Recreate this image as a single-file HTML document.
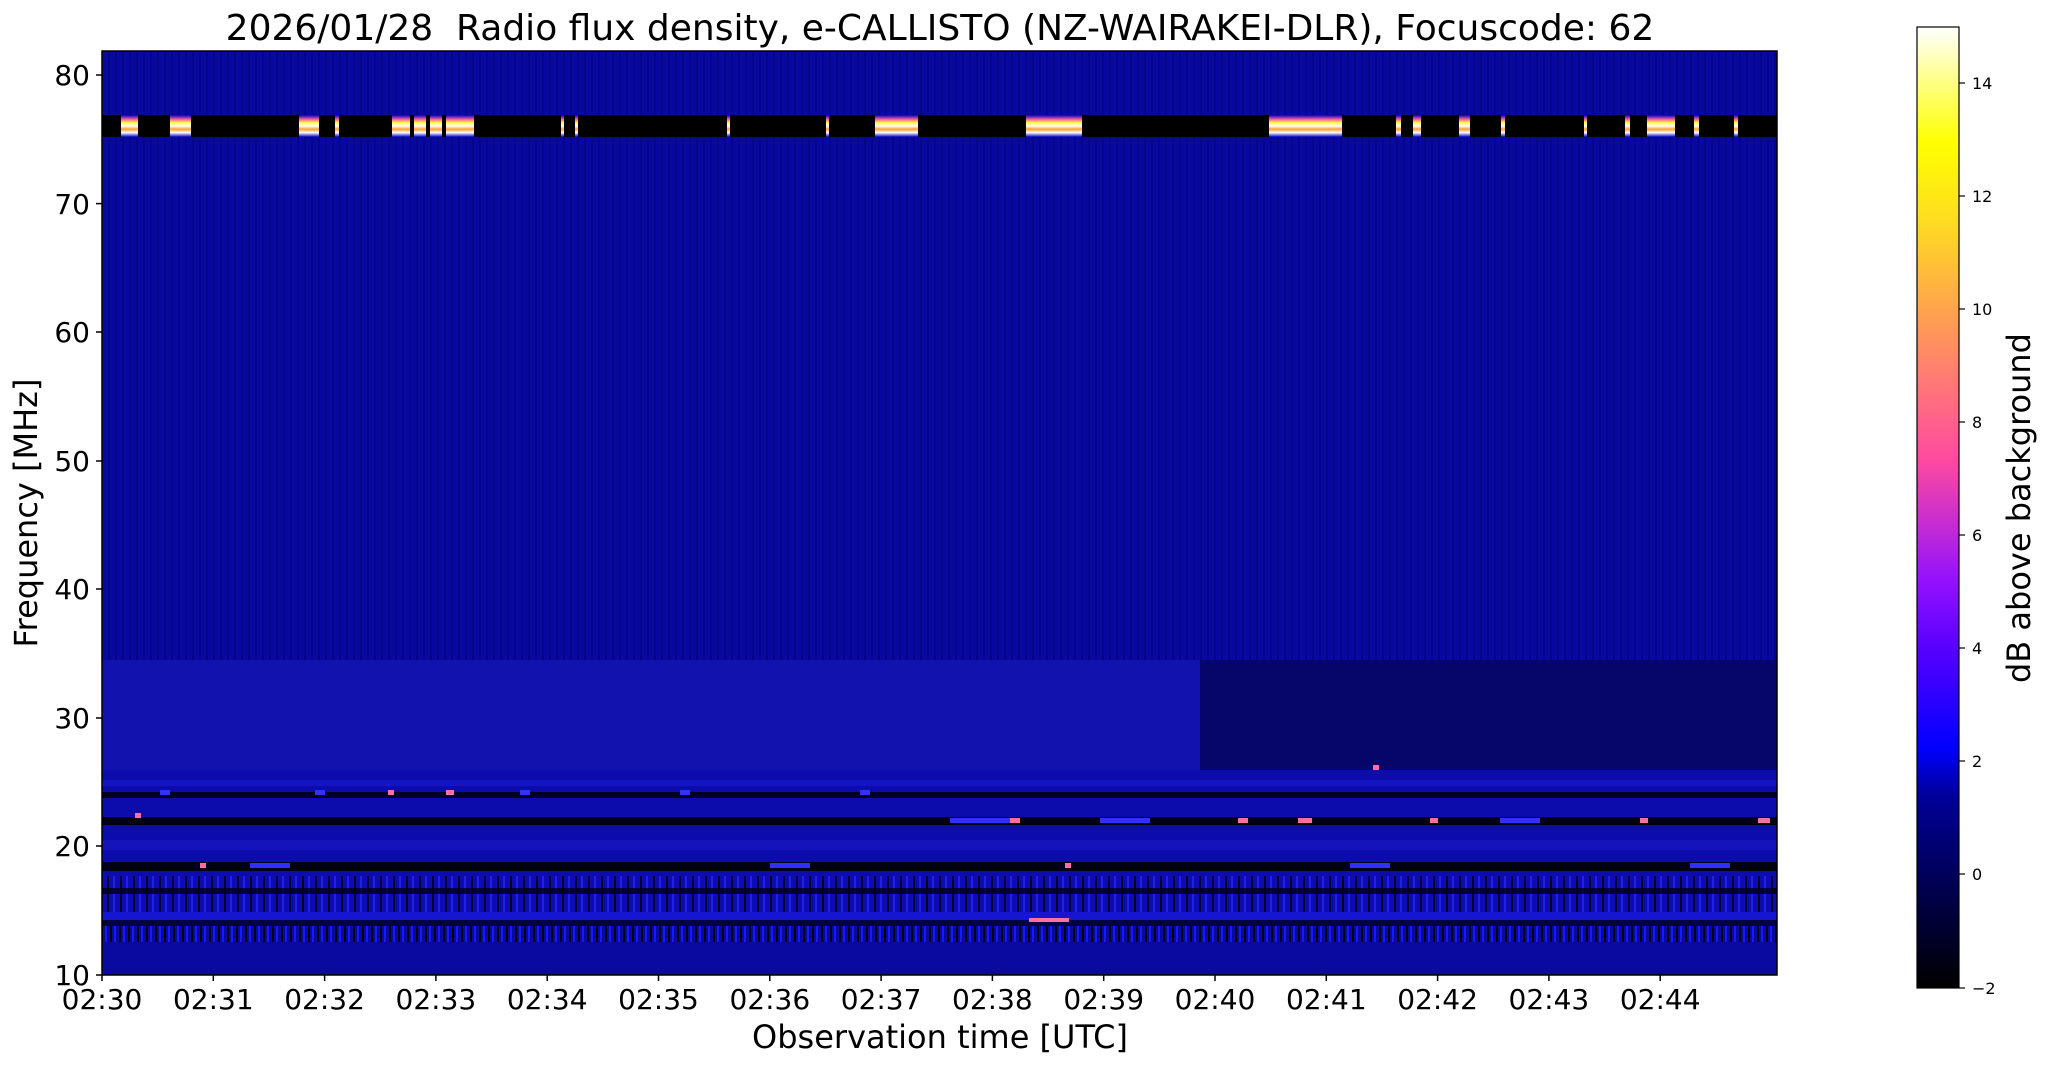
<!DOCTYPE html>
<html><head><meta charset="utf-8"><style>
body{margin:0;background:#fff;}
svg{display:block;font-family:"DejaVu Sans","Liberation Sans",sans-serif;}
</style></head><body>
<svg width="2047" height="1067" viewBox="0 0 2047 1067" xmlns="http://www.w3.org/2000/svg">
<defs>
<linearGradient id="cb" x1="0" y1="1" x2="0" y2="0">
<stop offset="0" stop-color="#000000"/>
<stop offset="0.1" stop-color="#00004d"/>
<stop offset="0.2" stop-color="#000099"/>
<stop offset="0.25" stop-color="#0000ff"/>
<stop offset="0.35" stop-color="#5500ff"/>
<stop offset="0.42" stop-color="#9010ff"/>
<stop offset="0.55" stop-color="#ff4aa0"/>
<stop offset="0.7" stop-color="#ffa050"/>
<stop offset="0.8" stop-color="#ffdd20"/>
<stop offset="0.88" stop-color="#ffff00"/>
<stop offset="1" stop-color="#ffffff"/>
</linearGradient>
<linearGradient id="burst" x1="0" y1="0" x2="0" y2="1">
<stop offset="0" stop-color="#0000c0"/>
<stop offset="0.2" stop-color="#ff60a0"/>
<stop offset="0.35" stop-color="#ffff40"/>
<stop offset="0.5" stop-color="#ffffff"/>
<stop offset="0.65" stop-color="#ffa030"/>
<stop offset="0.8" stop-color="#ffffff"/>
<stop offset="1" stop-color="#0000c0"/>
</linearGradient>
<pattern id="str" width="9" height="40" patternUnits="userSpaceOnUse">
<rect width="9" height="40" fill="#0a0a98"/>
<rect x="2" width="2" height="40" fill="#000010"/>
<rect x="6" width="2" height="40" fill="#1818ff"/>
</pattern>
<pattern id="str2" width="13" height="40" patternUnits="userSpaceOnUse">
<rect width="13" height="40" fill="#0c0cb0"/>
<rect x="3" width="2" height="40" fill="#000030"/>
<rect x="9" width="2" height="40" fill="#2020e8"/>
</pattern>
<pattern id="vt" width="7" height="40" patternUnits="userSpaceOnUse">
<rect width="7" height="40" fill="#0909a0"/>
<rect x="3" width="2" height="40" fill="#06068a"/>
</pattern>
</defs>
<text x="940" y="40" font-size="36" text-anchor="middle" fill="#000" style="white-space:pre">2026/01/28  Radio flux density, e-CALLISTO (NZ-WAIRAKEI-DLR), Focuscode: 62</text>
<!-- plot -->
<rect x="102" y="51" width="1675" height="924" fill="url(#vt)"/>
<rect x="102" y="660" width="1098" height="110" fill="#1212ae"/>
<rect x="1200" y="660" width="577" height="110" fill="#06066a"/>
<rect x="102" y="770" width="1675" height="205" fill="#0c0cac"/>
<!-- black band -->
<rect x="102" y="115" width="1675" height="22" fill="#000"/>
<g fill="url(#burst)">
<rect x="121" y="115" width="17" height="22"/>
<rect x="170" y="115" width="21" height="22"/>
<rect x="299" y="115" width="20" height="22"/>
<rect x="335" y="115" width="4" height="22"/>
<rect x="392" y="115" width="18" height="22"/>
<rect x="414" y="115" width="12" height="22"/>
<rect x="430" y="115" width="12" height="22"/>
<rect x="446" y="115" width="28" height="22"/>
<rect x="561" y="115" width="3" height="22"/>
<rect x="575" y="115" width="3" height="22"/>
<rect x="727" y="115" width="3" height="22"/>
<rect x="826" y="115" width="3" height="22"/>
<rect x="875" y="115" width="43" height="22"/>
<rect x="1026" y="115" width="56" height="22"/>
<rect x="1269" y="115" width="73" height="22"/>
<rect x="1396" y="115" width="5" height="22"/>
<rect x="1413" y="115" width="8" height="22"/>
<rect x="1459" y="115" width="11" height="22"/>
<rect x="1501" y="115" width="4" height="22"/>
<rect x="1584" y="115" width="3" height="22"/>
<rect x="1625" y="115" width="5" height="22"/>
<rect x="1647" y="115" width="28" height="22"/>
<rect x="1694" y="115" width="5" height="22"/>
<rect x="1734" y="115" width="4" height="22"/>
</g>
<!-- lower bands -->
<rect x="102" y="780" width="1675" height="6" fill="#1a1ad0" opacity="0.6"/>
<rect x="102" y="792" width="1675" height="6" fill="#000020"/>
<rect x="102" y="817" width="1675" height="8" fill="#000010"/>
<rect x="102" y="840" width="1675" height="10" fill="#1818c0" opacity="0.7"/>
<rect x="102" y="862" width="1675" height="9" fill="#000018"/>
<rect x="102" y="876" width="1675" height="36" fill="url(#str2)"/>
<rect x="102" y="888" width="1675" height="6" fill="#000010" opacity="0.8"/>
<rect x="102" y="912" width="1675" height="8" fill="#1616d0"/>
<rect x="102" y="920" width="1675" height="6" fill="#000010" opacity="0.7"/>
<rect x="102" y="926" width="1675" height="16" fill="url(#str)"/>
<rect x="102" y="942" width="1675" height="33" fill="#0a0aa0"/>
<!-- bright dots -->
<g fill="#ff70a0">
<rect x="135" y="813" width="6" height="5"/><rect x="200" y="863" width="6" height="5"/>
<rect x="275" y="863" width="6" height="5"/><rect x="388" y="790" width="6" height="5"/>
<rect x="446" y="790" width="8" height="5"/><rect x="1006" y="818" width="14" height="5"/>
<rect x="1065" y="863" width="6" height="5"/><rect x="1238" y="818" width="10" height="5"/>
<rect x="1373" y="765" width="6" height="5"/><rect x="1430" y="818" width="8" height="5"/>
<rect x="1640" y="818" width="8" height="5"/><rect x="1758" y="818" width="12" height="5"/>
<rect x="1029" y="918" width="40" height="4"/><rect x="1298" y="818" width="14" height="5"/>
</g>
<g fill="#3030ff">
<rect x="160" y="790" width="10" height="5"/><rect x="315" y="790" width="10" height="5"/>
<rect x="520" y="790" width="10" height="5"/><rect x="680" y="790" width="10" height="5"/>
<rect x="860" y="790" width="10" height="5"/><rect x="950" y="818" width="60" height="5"/>
<rect x="1100" y="818" width="50" height="5"/><rect x="1500" y="818" width="40" height="5"/>
<rect x="250" y="863" width="40" height="5"/><rect x="770" y="863" width="40" height="5"/>
<rect x="1350" y="863" width="40" height="5"/><rect x="1690" y="863" width="40" height="5"/>
</g>
<rect x="102" y="51" width="1675" height="924" fill="none" stroke="#000" stroke-width="1.5"/>
<!-- y ticks -->
<g stroke="#000" stroke-width="1.5">
<line x1="96" y1="75" x2="102" y2="75"/><line x1="96" y1="203.6" x2="102" y2="203.6"/>
<line x1="96" y1="332" x2="102" y2="332"/><line x1="96" y1="461" x2="102" y2="461"/>
<line x1="96" y1="589" x2="102" y2="589"/><line x1="96" y1="718" x2="102" y2="718"/>
<line x1="96" y1="846" x2="102" y2="846"/><line x1="96" y1="975" x2="102" y2="975"/>
</g>
<g font-size="28" text-anchor="end" fill="#000">
<text x="90" y="85">80</text><text x="90" y="214">70</text><text x="90" y="342">60</text>
<text x="90" y="471">50</text><text x="90" y="599">40</text><text x="90" y="728">30</text>
<text x="90" y="856">20</text><text x="90" y="985">10</text>
</g>
<text transform="translate(37,513) rotate(-90)" font-size="32" text-anchor="middle">Frequency [MHz]</text>
<!-- x ticks -->
<g stroke="#000" stroke-width="1.5">
<line x1="102" y1="975" x2="102" y2="981"/><line x1="213.3" y1="975" x2="213.3" y2="981"/>
<line x1="324.6" y1="975" x2="324.6" y2="981"/><line x1="435.9" y1="975" x2="435.9" y2="981"/>
<line x1="547.2" y1="975" x2="547.2" y2="981"/><line x1="658.5" y1="975" x2="658.5" y2="981"/>
<line x1="769.8" y1="975" x2="769.8" y2="981"/><line x1="881.1" y1="975" x2="881.1" y2="981"/>
<line x1="992.4" y1="975" x2="992.4" y2="981"/><line x1="1103.7" y1="975" x2="1103.7" y2="981"/>
<line x1="1215" y1="975" x2="1215" y2="981"/><line x1="1326.3" y1="975" x2="1326.3" y2="981"/>
<line x1="1437.6" y1="975" x2="1437.6" y2="981"/><line x1="1548.9" y1="975" x2="1548.9" y2="981"/>
<line x1="1660.2" y1="975" x2="1660.2" y2="981"/>
</g>
<g font-size="28" text-anchor="middle" fill="#000">
<text x="102" y="1009">02:30</text><text x="213.3" y="1009">02:31</text><text x="324.6" y="1009">02:32</text>
<text x="435.9" y="1009">02:33</text><text x="547.2" y="1009">02:34</text><text x="658.5" y="1009">02:35</text>
<text x="769.8" y="1009">02:36</text><text x="881.1" y="1009">02:37</text><text x="992.4" y="1009">02:38</text>
<text x="1103.7" y="1009">02:39</text><text x="1215" y="1009">02:40</text><text x="1326.3" y="1009">02:41</text>
<text x="1437.6" y="1009">02:42</text><text x="1548.9" y="1009">02:43</text><text x="1660.2" y="1009">02:44</text>
</g>
<text x="940" y="1048" font-size="32" text-anchor="middle">Observation time [UTC]</text>
<!-- colorbar -->
<rect x="1917" y="27" width="42" height="961" fill="url(#cb)" stroke="#000" stroke-width="1.2"/>
<g stroke="#000" stroke-width="1.2">
<line x1="1959" y1="83" x2="1965" y2="83"/><line x1="1959" y1="196" x2="1965" y2="196"/>
<line x1="1959" y1="309" x2="1965" y2="309"/><line x1="1959" y1="422" x2="1965" y2="422"/>
<line x1="1959" y1="535" x2="1965" y2="535"/><line x1="1959" y1="648" x2="1965" y2="648"/>
<line x1="1959" y1="761" x2="1965" y2="761"/><line x1="1959" y1="874" x2="1965" y2="874"/>
<line x1="1959" y1="988" x2="1965" y2="988"/>
</g>
<g font-size="16" fill="#000">
<text x="1972" y="89">14</text><text x="1972" y="202">12</text><text x="1972" y="315">10</text>
<text x="1972" y="428">8</text><text x="1972" y="541">6</text><text x="1972" y="654">4</text>
<text x="1972" y="767">2</text><text x="1972" y="880">0</text><text x="1972" y="994">−2</text>
</g>
<text transform="translate(2030,508) rotate(-90)" font-size="32" text-anchor="middle">dB above background</text>
</svg>
</body></html>
